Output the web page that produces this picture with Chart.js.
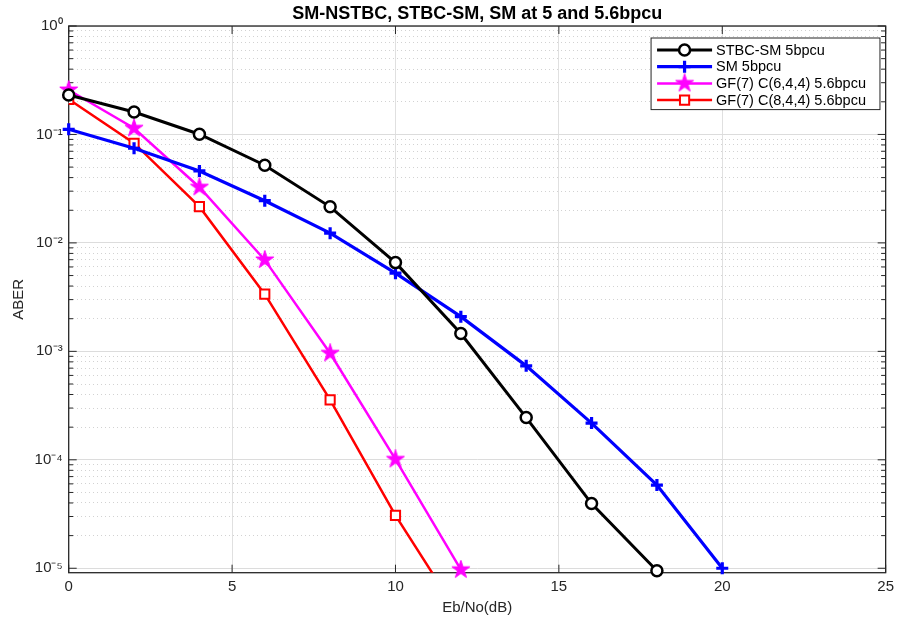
<!DOCTYPE html>
<html>
<head>
<meta charset="utf-8">
<script src="https://cdn.jsdelivr.net/npm/chart.js@4.4.0/dist/chart.umd.min.js"></script>
<style>
  html, body { margin: 0; padding: 0; background: #ffffff; }
  #wrap { width: 899px; height: 619px; }
</style>
</head>
<body>
<div id="wrap"><canvas id="c" width="899" height="619"></canvas></div>
<script>
// Eb/No sample points (dB)
const ebno = [0, 2, 4, 6, 8, 10, 12, 14, 16, 18, 20];

// Average bit error rate per scheme
const stbcSm5 = [0.231, 0.161, 0.1005, 0.052, 0.0215, 0.00658, 0.00146, 2.45e-4, 3.95e-5, 9.5e-6];
const sm5 = [0.1116, 0.0746, 0.0461, 0.0245, 0.0123, 0.00526, 0.00209, 7.35e-4, 2.18e-4, 5.85e-5, 1.0e-5];
const gf7c644 = [0.257, 0.114, 0.0326, 0.00697, 9.6e-4, 1.01e-4, 9.7e-6];
const gf7c844 = [0.211, 0.083, 0.0216, 0.00337, 3.57e-4, 3.07e-5, 3.5e-6];

const seriesLabels = ['STBC-SM 5bpcu', 'SM 5bpcu', 'GF(7) C(6,4,4) 5.6bpcu', 'GF(7) C(8,4,4) 5.6bpcu'];
const chartTitle = 'SM-NSTBC, STBC-SM, SM at 5 and 5.6bpcu';
const xTitle = 'Eb/No(dB)';
const yTitle = 'ABER';

const xTicks = [0, 5, 10, 15, 20, 25];
const yExponents = [-5, -4, -3, -2, -1, 0];

const FONT = '"Liberation Sans", Arial, Helvetica, sans-serif';
const AXIS_COLOR = '#262626';

// Filled five-point star used as a point marker
function makeStar(size, color) {
  const cv = document.createElement('canvas');
  cv.width = size; cv.height = size;
  const g = cv.getContext('2d');
  const c = size / 2, ro = size / 2 - 0.5, ri = ro * 0.382;
  g.beginPath();
  for (let i = 0; i < 10; i++) {
    const r = i % 2 === 0 ? ro : ri;
    const a = -Math.PI / 2 + i * Math.PI / 5;
    const px = c + r * Math.cos(a), py = c + r * Math.sin(a);
    if (i === 0) g.moveTo(px, py); else g.lineTo(px, py);
  }
  g.closePath();
  g.fillStyle = color; g.strokeStyle = color; g.lineWidth = 1;
  g.fill(); g.stroke();
  return cv;
}
const starMarker = makeStar(20, '#ff00ff');

const toPoints = ys => ys.map((y, i) => ({ x: ebno[i], y: y }));

const SUP = { '0': '⁰', '1': '¹', '2': '²', '3': '³', '4': '⁴', '5': '⁵', '6': '⁶', '7': '⁷', '8': '⁸', '9': '⁹', '-': '⁻' };
const supText = n => String(n).split('').map(ch => SUP[ch]).join('');

function isDecade(v) {
  const e = Math.log10(v);
  return Math.abs(e - Math.round(e)) < 1e-9;
}

// y ticks: every mantissa 1..9 inside each decade, decades are major
function buildLogTicks() {
  const out = [];
  for (let e = yExponents[0]; e <= yExponents[yExponents.length - 1]; e++) {
    for (let m = 1; m <= 9; m++) {
      const v = m * Math.pow(10, e);
      if (v > 1 + 1e-12) break;
      out.push({ value: v, major: m === 1 });
    }
  }
  return out;
}

// Axes box with inward tick marks on all four sides
const boxPlugin = {
  id: 'boxAxes',
  beforeDatasetsDraw(chart) {
    const { ctx, chartArea: a, scales } = chart;
    ctx.save();
    ctx.strokeStyle = AXIS_COLOR;
    ctx.lineWidth = 1;
    ctx.beginPath();
    xTicks.forEach(v => {
      const px = scales.x.getPixelForValue(v);
      ctx.moveTo(px, a.bottom); ctx.lineTo(px, a.bottom - 8);
      ctx.moveTo(px, a.top); ctx.lineTo(px, a.top + 8);
    });
    scales.y.ticks.forEach(t => {
      const py = scales.y.getPixelForValue(t.value);
      const len = t.major ? 8 : 4.5;
      ctx.moveTo(a.left, py); ctx.lineTo(a.left + len, py);
      ctx.moveTo(a.right, py); ctx.lineTo(a.right - len, py);
    });
    ctx.stroke();
    ctx.lineWidth = 1.3;
    ctx.strokeRect(a.left, a.top, a.right - a.left, a.bottom - a.top);
    ctx.restore();
  }
};

// Boxed legend in the upper right corner of the plot
const legendPlugin = {
  id: 'boxLegend',
  afterDatasetsDraw(chart) {
    const { ctx, chartArea: a } = chart;
    const sets = chart.data.datasets;
    ctx.save();
    ctx.font = '14.5px ' + FONT;
    let maxW = 0;
    sets.forEach(d => { maxW = Math.max(maxW, ctx.measureText(d.label).width); });
    const right = a.right - 5.7;
    const top = a.top + 12;
    const w = 65 + maxW + 14;
    const left = right - w;
    const rowH = 16.7;
    const h = 12 + rowH * (sets.length - 1) + 9.5;
    ctx.fillStyle = '#ffffff';
    ctx.fillRect(left, top, w, h);
    ctx.strokeStyle = AXIS_COLOR;
    ctx.lineWidth = 1;
    ctx.strokeRect(left, top, w, h);
    sets.forEach((d, i) => {
      const y = top + 12 + i * rowH;
      ctx.strokeStyle = d.borderColor;
      ctx.lineWidth = d.borderWidth;
      ctx.beginPath();
      ctx.moveTo(left + 6, y); ctx.lineTo(left + 61, y);
      ctx.stroke();
      ctx.fillStyle = d.pointBackgroundColor;
      ctx.strokeStyle = d.pointBorderColor;
      ctx.lineWidth = d.pointBorderWidth;
      Chart.helpers.drawPoint(ctx, {
        pointStyle: d.pointStyle, radius: d.pointRadius, rotation: 0, borderWidth: d.pointBorderWidth
      }, left + 33.5, y);
      ctx.fillStyle = '#000000';
      ctx.textBaseline = 'middle';
      ctx.textAlign = 'left';
      ctx.fillText(d.label, left + 65, y + 0.5);
    });
    ctx.restore();
  }
};

new Chart(document.getElementById('c'), {
  type: 'line',
  data: {
    datasets: [
      {
        label: seriesLabels[0], data: toPoints(stbcSm5),
        borderColor: '#000000', borderWidth: 3,
        pointStyle: 'circle', pointRadius: 5.5, pointBorderWidth: 2.5,
        pointBorderColor: '#000000', pointBackgroundColor: '#ffffff',
        clip: false
      },
      {
        label: seriesLabels[1], data: toPoints(sm5),
        borderColor: '#0000ff', borderWidth: 3.2,
        pointStyle: 'cross', pointRadius: 6, pointBorderWidth: 3.2,
        pointBorderColor: '#0000ff', pointBackgroundColor: '#0000ff',
        clip: false
      },
      {
        label: seriesLabels[2], data: toPoints(gf7c644),
        borderColor: '#ff00ff', borderWidth: 2.5,
        pointStyle: starMarker, pointRadius: 9, pointBorderWidth: 1,
        pointBorderColor: '#ff00ff', pointBackgroundColor: '#ff00ff',
        clip: false
      },
      {
        label: seriesLabels[3], data: toPoints(gf7c844),
        borderColor: '#ff0000', borderWidth: 2.5,
        pointStyle: 'rect', pointRadius: 6.5, pointBorderWidth: 2,
        pointBorderColor: '#ff0000', pointBackgroundColor: '#ffffff'
      }
    ]
  },
  options: {
    responsive: false,
    animation: false,
    devicePixelRatio: 1,
    layout: { padding: { top: 0, left: 0, right: 11.3, bottom: 0 } },
    elements: { line: { tension: 0, fill: false } },
    plugins: {
      legend: { display: false },
      tooltip: { enabled: false },
      title: {
        display: true, text: chartTitle, fullSize: false,
        color: '#000000',
        font: { family: FONT, size: 18, weight: 'bold', lineHeight: 1 },
        padding: { top: 5.5, bottom: 2.5 }
      }
    },
    scales: {
      x: {
        type: 'linear', min: 0, max: 25,
        afterBuildTicks: s => { s.ticks = xTicks.map(v => ({ value: v })); },
        afterFit: s => { s.height = 46.3; },
        ticks: { color: AXIS_COLOR, font: { family: FONT, size: 15 }, padding: 5, maxRotation: 0, autoSkip: false },
        grid: {
          drawTicks: false, lineWidth: 1,
          color: ctx => (ctx.tick && (ctx.tick.value === 0 || ctx.tick.value === 25)) ? 'rgba(0,0,0,0)' : '#e0e0e0'
        },
        border: { display: false },
        title: { display: true, text: xTitle, color: AXIS_COLOR, font: { family: FONT, size: 15 }, padding: { top: 0, bottom: 2 } }
      },
      y: {
        type: 'logarithmic', min: 9.1e-6, max: 1,
        afterBuildTicks: s => { s.ticks = buildLogTicks(); },
        afterFit: s => { s.width = 68.7; },
        ticks: {
          autoSkip: false, color: AXIS_COLOR, font: { family: FONT, size: 15 }, padding: 6,
          callback: v => isDecade(v) ? '10' + supText(Math.round(Math.log10(v))) : ''
        },
        grid: {
          drawTicks: false, lineWidth: 1,
          color: ctx => (ctx.tick && isDecade(ctx.tick.value)) ? '#dcdcdc' : '#d2d2d2'
        },
        border: {
          display: false,
          dash: ctx => (ctx.tick && !isDecade(ctx.tick.value)) ? [1, 3] : []
        },
        title: { display: true, text: yTitle, color: AXIS_COLOR, font: { family: FONT, size: 15 }, padding: { top: 10, bottom: 0 } }
      }
    }
  },
  plugins: [boxPlugin, legendPlugin]
});
</script>
</body>
</html>
